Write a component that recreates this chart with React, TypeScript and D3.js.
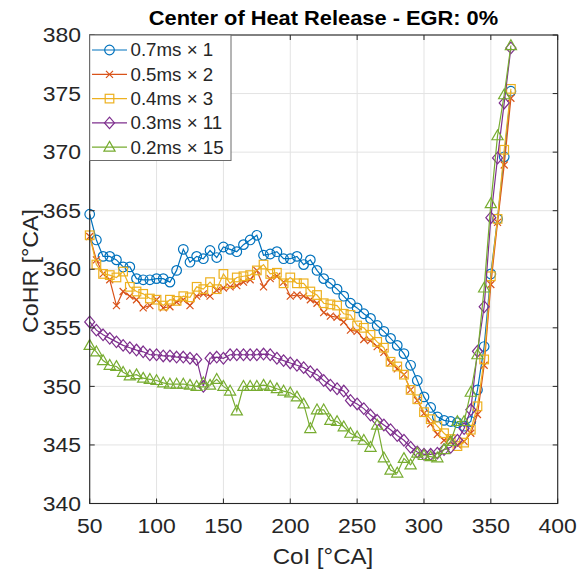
import React, { useEffect } from "react";
import * as d3 from "d3";

const xs = [50,55,60,65,70,75,80,85,90,95,100,105,110,115,120,125,130,135,140,145,150,155,160,165,170,175,180,185,190,195,200,205,210,215,220,225,230,235,240,245,250,255,260,265,270,275,280,285,290,295,300,305,310,315,320,325,330,335,340,345,350,355,360,365];

const s07 = [364.7,362.5,361.1,361.1,360.8,360.2,360.2,359.2,359.1,359.1,359.2,359.2,358.9,359.9,361.7,360.6,361.1,360.9,361.6,361.0,361.9,361.7,361.5,362.1,362.5,362.9,361.2,361.3,361.5,360.9,360.9,361.1,360.4,360.8,359.9,359.2,358.8,358.3,357.7,357.1,356.7,356.2,355.8,355.2,354.7,354.1,353.5,352.8,351.8,350.5,349.1,348.2,347.4,347.1,347.0,346.9,346.6,347.0,349.7,353.4,359.6,364.3,369.6,375.2];
const s05 = [362.8,360.8,359.6,359.1,356.9,358.1,357.7,357.4,356.7,356.9,357.4,356.7,356.8,357.2,357.4,356.9,357.7,357.9,357.7,358.2,358.4,358.5,358.6,358.9,359.1,359.9,358.5,359.2,359.4,358.9,357.7,357.8,357.7,357.4,357.1,356.3,356.0,355.9,355.5,354.8,354.7,354.0,353.9,353.4,352.9,352.0,351.5,351.0,349.7,348.8,347.7,346.8,345.9,345.4,345.6,345.0,345.3,346.0,347.6,351.8,358.7,364.0,368.9,374.6];
const s04 = [362.9,360.4,359.6,359.5,359.3,359.8,358.5,358.1,357.9,357.5,357.4,356.9,357.4,357.3,357.7,357.6,358.5,358.3,358.9,358.3,359.6,358.8,359.3,359.4,359.5,359.9,360.4,359.6,359.7,358.8,359.3,358.8,358.8,358.1,357.8,357.1,357.0,356.9,356.2,356.1,355.2,355.0,354.4,353.8,353.3,352.1,351.7,351.0,349.7,348.9,347.8,347.2,346.6,346.0,345.5,344.9,345.2,346.3,348.3,352.3,359.4,364.3,370.2,375.4];
const s03 = [355.5,354.8,354.4,354.1,353.8,353.5,353.3,353.1,352.95,352.7,352.7,352.6,352.6,352.5,352.5,352.4,352.3,350.0,352.4,352.5,352.4,352.7,352.7,352.7,352.7,352.7,352.76,352.7,352.4,352.2,352.0,351.8,351.6,351.25,351.0,350.5,350.1,349.8,349.6,348.8,348.5,348.1,347.55,347.1,346.7,346.3,345.8,345.4,344.8,344.4,344.2,344.2,344.3,344.6,344.8,345.4,346.4,348.0,353.0,356.8,364.4,369.5,374.2,378.9];
const s02 = [353.5,352.95,352.2,351.8,351.7,351.2,350.9,351.0,350.7,350.6,350.5,350.3,350.2,350.2,350.2,350.1,350.0,350.3,350.1,350.6,350.0,349.6,347.9,350.0,350.0,350.0,350.1,350.0,349.8,349.6,349.45,349.1,348.5,346.4,348.0,348.0,347.1,347.0,346.55,346.0,345.7,345.4,344.8,346.7,343.9,342.85,342.6,343.85,343.3,344.3,344.1,344.0,343.9,344.6,345.3,347.0,347.0,349.5,352.7,358.4,365.6,371.4,374.9,379.1];

const seriesNames = ["0.7ms \u00d7 1", "0.5ms \u00d7 2", "0.4ms \u00d7 3", "0.3ms \u00d7 11", "0.2ms \u00d7 15"];
const seriesColors = ["#0072BD", "#D95319", "#EDB120", "#7E2F8E", "#77AC30"];
const seriesMarkers = ["circle", "x", "square", "diamond", "triangle"];
const seriesValues = [s07, s05, s04, s03, s02];

const xTicks = [50, 100, 150, 200, 250, 300, 350, 400];
const yTicks = [340, 345, 350, 355, 360, 365, 370, 375, 380];

const W = 577, H = 571;
const L = 89.7, R = 557.7, T = 35, B = 503.5;
const FONT = "'Liberation Sans', Arial, Helvetica, sans-serif";
const SX = 1.12;

function Marker({ type, x, y, color }: { type: string; x: number; y: number; color: string }) {
  const sw = 1.2;
  if (type === "circle") return <circle cx={x} cy={y} r={4.8} fill="none" stroke={color} strokeWidth={sw} />;
  if (type === "square") return <rect x={x - 4.3} y={y - 4.3} width={8.6} height={8.6} fill="none" stroke={color} strokeWidth={sw} />;
  if (type === "diamond") return <path d={`M${x},${y - 5.8}L${x + 5},${y}L${x},${y + 5.8}L${x - 5},${y}Z`} fill="none" stroke={color} strokeWidth={sw} />;
  if (type === "triangle") return <path d={`M${x},${y - 5.8}L${x + 5.6},${y + 4}L${x - 5.6},${y + 4}Z`} fill="none" stroke={color} strokeWidth={sw} />;
  return <path d={`M${x - 3.5},${y - 3.5}L${x + 3.5},${y + 3.5}M${x - 3.5},${y + 3.5}L${x + 3.5},${y - 3.5}`} fill="none" stroke={color} strokeWidth={sw} />;
}

function SText({ x, y, sx = SX, rotate = 0, children, ...rest }: any) {
  return (
    <g transform={`translate(${x},${y}) rotate(${rotate}) scale(${sx},1)`}>
      <text x={0} y={0} fontFamily={FONT} fill="#262626" {...rest}>{children}</text>
    </g>
  );
}

export default function App() {
  useEffect(() => {
    document.body.style.margin = "0";
  }, []);
  const x = d3.scaleLinear().domain([50, 400]).range([L, R]);
  const y = d3.scaleLinear().domain([340, 380]).range([B, T]);
  const line = d3.line<number>().x((_, i) => x(xs[i])).y((d) => y(d));

  const legX = L, legY = T, legW = 141.3, legH = 125.5;
  const rowY = (i: number) => 50 + i * 24.3;

  return (
    <svg width={W} height={H} style={{ position: "absolute", left: 0, top: 0, background: "#fff" }}>
      <rect x={0} y={0} width={W} height={H} fill="#fff" />
      {/* grid */}
      {xTicks.map((t) => (
        <line key={"gx" + t} x1={x(t)} x2={x(t)} y1={T} y2={B} stroke="#e3e3e3" strokeWidth={1} />
      ))}
      {yTicks.map((t) => (
        <line key={"gy" + t} x1={L} x2={R} y1={y(t)} y2={y(t)} stroke="#e3e3e3" strokeWidth={1} />
      ))}
      {/* series */}
      {seriesValues.map((vals, si) => (
        <g key={"s" + si}>
          <path d={line(vals) || ""} fill="none" stroke={seriesColors[si]} strokeWidth={1.2} />
          {vals.map((v, i) => (
            <Marker key={i} type={seriesMarkers[si]} x={x(xs[i])} y={y(v)} color={seriesColors[si]} />
          ))}
        </g>
      ))}
      {/* axes box */}
      <rect x={L} y={T} width={R - L} height={B - T} fill="none" stroke="#262626" strokeWidth={1.1} />
      {xTicks.map((t) => (
        <g key={"tx" + t}>
          <line x1={x(t)} x2={x(t)} y1={B} y2={B - 5} stroke="#262626" strokeWidth={1} />
          <line x1={x(t)} x2={x(t)} y1={T} y2={T + 5} stroke="#262626" strokeWidth={1} />
          <SText x={x(t)} y={533} fontSize={20.5} textAnchor="middle">{t}</SText>
        </g>
      ))}
      {yTicks.map((t) => (
        <g key={"ty" + t}>
          <line x1={L} x2={L + 5} y1={y(t)} y2={y(t)} stroke="#262626" strokeWidth={1} />
          <line x1={R} x2={R - 5} y1={y(t)} y2={y(t)} stroke="#262626" strokeWidth={1} />
          <SText x={81} y={y(t) + 7.2} fontSize={20.5} textAnchor="end">{t}</SText>
        </g>
      ))}
      {/* labels */}
      <SText x={323} y={564} fontSize={21.5} textAnchor="middle">CoI [°CA]</SText>
      <SText x={38} y={271} rotate={-90} sx={1.08} fontSize={21.5} textAnchor="middle">CoHR [°CA]</SText>
      <SText x={323.5} y={25} fontSize={19.5} fontWeight="bold" textAnchor="middle" fill="#000">Center of Heat Release - EGR: 0%</SText>
      {/* legend */}
      <rect x={legX} y={legY} width={legW} height={legH} fill="#fff" stroke="#6b6b6b" strokeWidth={1} />
      {seriesNames.map((n, i) => (
        <g key={"l" + i}>
          <line x1={92} x2={127} y1={rowY(i)} y2={rowY(i)} stroke={seriesColors[i]} strokeWidth={1.2} />
          <Marker type={seriesMarkers[i]} x={109.5} y={rowY(i)} color={seriesColors[i]} />
          <SText x={130.5} y={rowY(i) + 6.3} sx={1.07} fontSize={17.5}>{n}</SText>
        </g>
      ))}
    </svg>
  );
}
